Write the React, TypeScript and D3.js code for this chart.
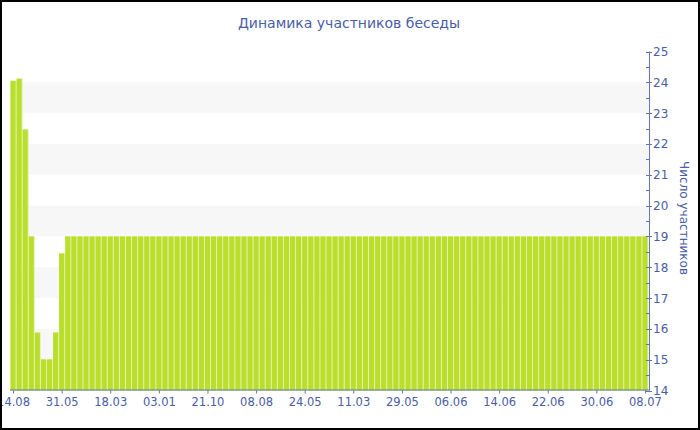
import React from "react";
import * as d3 from "d3";

const title = "Динамика участников беседы";
const yTitle = "Число участников";
const tickLabels = ["14.08", "31.05", "18.03", "03.01", "21.10", "08.08", "24.05", "11.03", "29.05", "06.06", "14.06", "22.06", "30.06", "08.07"];
const values = [
  24.05, 24.12, 22.47, 19, 15.88, 15.01, 15.01, 15.88, 18.45, 19,
  19, 19, 19, 19, 19, 19, 19, 19, 19, 19,
  19, 19, 19, 19, 19, 19, 19, 19, 19, 19,
  19, 19, 19, 19, 19, 19, 19, 19, 19, 19,
  19, 19, 19, 19, 19, 19, 19, 19, 19, 19,
  19, 19, 19, 19, 19, 19, 19, 19, 19, 19,
  19, 19, 19, 19, 19, 19, 19, 19, 19, 19,
  19, 19, 19, 19, 19, 19, 19, 19, 19, 19,
  19, 19, 19, 19, 19, 19, 19, 19, 19, 19,
  19, 19, 19, 19, 19, 19, 19, 19, 19, 19,
  19, 19, 19, 19, 19,
];
const labelEvery = 8;
const yDomain = [14, 25];

const W = 700;
const H = 430;
const left = 10.5;
const right = 648.5;
const top = 51.5;
const bottom = 390.5;
const axisX = 650;
const textColor = "#4a5da6";
const axisColor = "#6274b6";
const barColor = "#bade2c";
const gapColor = "#e4f2ae";
const bandColor = "#f7f7f7";
const font = "'DejaVu Sans', Verdana, sans-serif";

export default function App() {
  const x = d3.scaleBand<number>().domain(values.map((_, i) => i)).range([left, right]).padding(0);
  const y = d3.scaleLinear().domain(yDomain).range([bottom, top]);
  const step = x.step();
  const majors = d3.range(yDomain[0], yDomain[1] + 1, 1);
  const minors = d3.range(yDomain[0] + 0.5, yDomain[1], 1);
  const bands = majors.filter((v) => v % 2 === 1 && v < yDomain[1]);
  const labelIdx = tickLabels.map((_, k) => k * labelEvery);

  return (
    <svg width={W} height={H} style={{ position: "absolute", left: 0, top: 0, background: "#fff" }} fontFamily={font}>
      <rect x={0} y={0} width={W} height={H} fill="#fff" />
      {bands.map((v) => (
        <rect key={"b" + v} x={left} y={y(v + 1)} width={right - left} height={y(v) - y(v + 1)} fill={bandColor} />
      ))}
      {values.map((v, i) => (
        <g key={"bar" + i}>
          <rect x={x(i)!} y={y(v)} width={step} height={y(yDomain[0]) - y(v)} fill={gapColor} />
          <rect x={x(i)!} y={y(v)} width={step - 1} height={y(yDomain[0]) - y(v)} fill={barColor} />
        </g>
      ))}
      <line x1={left - 0.5} x2={axisX} y1={bottom - 0.5} y2={bottom - 0.5} stroke={axisColor} strokeWidth={1} />
      {labelIdx.map((i, k) => {
        const cx = x(i)! + step / 2;
        return (
          <g key={"xt" + k}>
            <line x1={cx} x2={cx} y1={bottom} y2={bottom + 3} stroke={axisColor} />
            <text x={cx} y={bottom + 15} textAnchor="middle" fontSize={11.5} fill={textColor}>
              {tickLabels[k]}
            </text>
          </g>
        );
      })}
      <line x1={axisX - 0.5} x2={axisX - 0.5} y1={y(yDomain[1])} y2={bottom} stroke={axisColor} />
      {majors.map((v) => (
        <g key={"yt" + v}>
          <line x1={axisX - 4} x2={axisX + 2} y1={Math.round(y(v)) + 0.5} y2={Math.round(y(v)) + 0.5} stroke={axisColor} />
          <text x={axisX + 3} y={y(v) + 4.5} fontSize={12} fill={textColor}>
            {v}
          </text>
        </g>
      ))}
      {minors.map((v) => (
        <line key={"ym" + v} x1={axisX - 4} x2={axisX} y1={Math.round(y(v)) + 0.5} y2={Math.round(y(v)) + 0.5} stroke={axisColor} />
      ))}
      <text
        transform={`translate(680, ${(top + bottom) / 2 - 3}) rotate(90)`}
        textAnchor="middle"
        fontSize={12}
        fill={textColor}
      >
        {yTitle}
      </text>
      <text x={349} y={28} textAnchor="middle" fontSize={14} fill={textColor}>
        {title}
      </text>
      <rect x={1} y={1} width={W - 2} height={H - 2} fill="none" stroke="#000" strokeWidth={2} />
    </svg>
  );
}
